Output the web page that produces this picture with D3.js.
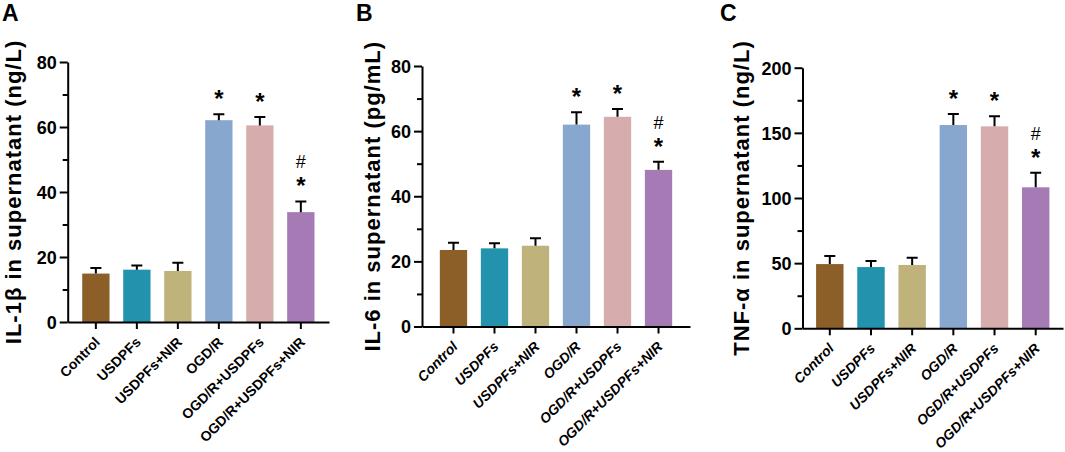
<!doctype html>
<html lang="en">
<head>
    <meta charset="UTF-8">
    <title>Cytokines in supernatant</title>
    <script src="https://cdnjs.cloudflare.com/ajax/libs/d3/7.8.5/d3.min.js"></script>
    <style>
        html, body {
            margin: 0;
            padding: 0;
            background: #fff;
            overflow: hidden;
        }
        text {
            font-family: "Liberation Sans", Arial, sans-serif;
            font-weight: bold;
            fill: #000;
        }
    </style>
</head>
<body>
<svg id="chart" width="1065" height="452"></svg>
<script>
    // groups and their bar colours
    const groups = ["Control", "USDPFs", "USDPFs+NIR", "OGD/R", "OGD/R+USDPFs", "OGD/R+USDPFs+NIR"];
    const groupColors = ["#8c5f29", "#2292ad", "#bfb27a", "#88a7cf", "#d7acad", "#a67bb5"];

    // A: IL-1β (ng/L)
    const il1bMean = [14.9, 16.1, 15.7, 62.1, 60.5, 33.8];
    const il1bSem = [1.7, 1.3, 2.5, 1.8, 2.6, 3.3];
    const il1bTicks = [0, 20, 40, 60, 80];
    const il1bMarks = ["", "", "", "*", "*", "#*"];

    // B: IL-6 (pg/mL)
    const il6Mean = [23.5, 24.0, 24.8, 62.0, 64.4, 48.1];
    const il6Sem = [2.2, 1.6, 2.3, 3.8, 2.4, 2.5];
    const il6Ticks = [0, 20, 40, 60, 80];
    const il6Marks = ["", "", "", "*", "*", "#*"];

    // C: TNF-α (ng/L)
    const tnfMean = [49.3, 47.0, 48.6, 156.0, 155.0, 108.2];
    const tnfSem = [6.2, 4.6, 5.6, 8.4, 7.7, 11.2];
    const tnfTicks = [0, 50, 100, 150, 200];
    const tnfMarks = ["", "", "", "*", "*", "#*"];

    const svg = d3.select("#chart");

    function drawPanel(p) {
        const g = svg.append("g");
        const top = p.ticks[p.ticks.length - 1];

        const y = d3.scaleLinear().domain([0, top]).range([p.bottom, p.top]);
        const x = d3.scaleBand().domain(groups).range([p.left, p.right])
            .paddingInner(0.334).paddingOuter(p.outer);

        // minor ticks halfway between labelled ones
        const minor = p.ticks.slice(1).map((t, i) => (t + p.ticks[i]) / 2);

        g.append("g")
            .attr("transform", `translate(${p.left},0)`)
            .call(d3.axisLeft(y).tickValues(minor).tickFormat("").tickSize(5).tickSizeOuter(0))
            .call(a => a.select(".domain").remove());

        const yAxis = g.append("g")
            .attr("transform", `translate(${p.left},0)`)
            .call(d3.axisLeft(y).tickValues(p.ticks).tickSize(8).tickSizeOuter(0).tickPadding(3));
        yAxis.selectAll("text").style("font-size", "18px").style("font-family", null).attr("dy", "0.36em");

        // bars
        g.selectAll(".bar")
            .data(groups)
            .enter().append("rect")
            .attr("class", "bar")
            .attr("x", d => x(d))
            .attr("width", x.bandwidth())
            .attr("y", (d, i) => y(p.mean[i]))
            .attr("height", (d, i) => y(0) - y(p.mean[i]))
            .attr("fill", (d, i) => groupColors[i]);

        // upper error bars
        const cx = d => x(d) + x.bandwidth() / 2;
        g.selectAll(".err")
            .data(groups)
            .enter().append("path")
            .attr("class", "err")
            .attr("d", (d, i) => {
                const y0 = y(p.mean[i]), y1 = y(p.mean[i] + p.sem[i]);
                return `M${cx(d)},${y0}V${y1}M${cx(d) - 5.5},${y1}H${cx(d) + 5.5}`;
            })
            .attr("fill", "none")
            .attr("stroke", "#000")
            .attr("stroke-width", 2);

        const xAxis = g.append("g")
            .attr("transform", `translate(0,${p.bottom})`)
            .call(d3.axisBottom(x).tickSize(7).tickSizeOuter(0).tickFormat(""));

        [yAxis, xAxis].forEach(a => {
            a.selectAll("path, line").attr("stroke-width", 2);
        });
        g.selectAll(".tick line").attr("stroke-width", 2);

        // category labels, rotated
        g.selectAll(".xlab")
            .data(groups)
            .enter().append("text")
            .attr("class", "xlab")
            .attr("transform", d => `translate(${cx(d) + 5},${p.bottom + 21}) rotate(-45)`)
            .attr("text-anchor", "end")
            .style("font-size", "14px")
            .style("font-style", p.italic ? "italic" : "normal")
            .text(d => d);

        // significance marks
        groups.forEach((d, i) => {
            const m = p.marks[i];
            if (!m) return;
            const yTop = y(p.mean[i] + p.sem[i]);
            if (m.includes("*")) {
                g.append("text")
                    .attr("x", cx(d)).attr("y", yTop - 20 + 13)
                    .attr("text-anchor", "middle")
                    .style("font-size", "24px")
                    .text("*");
            }
            if (m.includes("#")) {
                g.append("text")
                    .attr("x", cx(d)).attr("y", yTop - 40 + 7)
                    .attr("text-anchor", "middle")
                    .style("font-size", "18px")
                    .style("font-weight", "normal")
                    .text("#");
            }
        });

        // axis title
        g.append("text")
            .attr("transform", `translate(${p.titleX},${(p.top + p.bottom) / 2}) rotate(-90)`)
            .attr("text-anchor", "middle")
            .style("font-size", "22px")
            .style("letter-spacing", "1px")
            .text(p.title);

        // panel letter
        g.append("text")
            .attr("x", p.letterX).attr("y", 21)
            .style("font-size", "23px")
            .text(p.letter);
    }

    drawPanel({
        letter: "A", letterX: 2, title: "IL-1β in supernatant (ng/L)", titleX: 21,
        mean: il1bMean, sem: il1bSem, ticks: il1bTicks, marks: il1bMarks,
        left: 67.7, right: 329, top: 62, bottom: 322, outer: 0.354, italic: false
    });
    drawPanel({
        letter: "B", letterX: 356, title: "IL-6 in supernatant (pg/mL)", titleX: 380,
        mean: il6Mean, sem: il6Sem, ticks: il6Ticks, marks: il6Marks,
        left: 422, right: 690, top: 66, bottom: 326.5, outer: 0.435, italic: true
    });
    drawPanel({
        letter: "C", letterX: 720, title: "TNF-α in supernatant (ng/L)", titleX: 749,
        mean: tnfMean, sem: tnfSem, ticks: tnfTicks, marks: tnfMarks,
        left: 802.5, right: 1063, top: 67.7, bottom: 328.3, outer: 0.33, italic: true
    });
</script>
</body>
</html>
